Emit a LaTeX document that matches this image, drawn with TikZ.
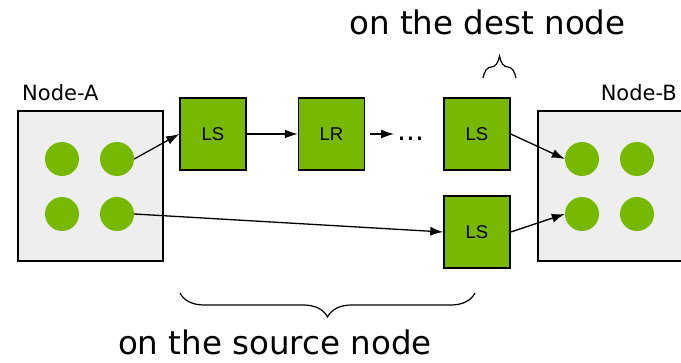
\documentclass[tikz,border=0pt]{standalone}
\usepackage{fontspec}
\setmainfont{DejaVu Sans}
\newfontfamily\boxfont{Liberation Sans}
\usepackage{tikz}
\usetikzlibrary{arrows.meta,positioning,decorations.pathreplacing}
\definecolor{nvgreen}{HTML}{76B900}
\definecolor{hostgray}{HTML}{EEEEEE}
\tikzset{
  hostbox/.style={draw=black,fill=hostgray,line width=1.5pt,minimum width=145pt,
    minimum height=150pt,inner sep=0pt},
  gpudot/.style={circle,fill=nvgreen,minimum size=34pt,inner sep=0pt},
  linkbox/.style={draw=black,fill=nvgreen,line width=1.5pt,minimum width=66pt,
    minimum height=72pt,inner sep=0pt,font=\boxfont\fontsize{18.5}{20}\selectfont},
  hostlabel/.style={font=\fontsize{21}{24}\selectfont,inner sep=0pt},
  bracelabel/.style={font=\fontsize{32.5}{36}\selectfont,inner sep=0pt,anchor=base},
  linkarrow/.style={-{Latex[length=13pt,width=9pt]},line width=1.3pt},
  bracepath/.style={decorate,decoration={brace,amplitude=#1},line width=1.2pt}
}
\begin{document}
\begin{tikzpicture}[x=1pt,y=-1pt]
  \useasboundingbox (0,0) rectangle (681,363);
  \clip (0,0) rectangle (681,363);
  % source host
  \node[hostbox] (nodeA) at (90.5,186) {};
  \node[hostlabel,anchor=base west] (labelA) at (22,101) {Node-A};
  \node[gpudot] (a1) at (62,159) {};
  \node[gpudot] (a2) at (117,159) {};
  \node[gpudot] (a3) at (62,214) {};
  \node[gpudot] (a4) at (117,214) {};
  % dest host
  \node[hostbox] (nodeB) at (610.5,186) {};
  \node[hostlabel,anchor=base east] (labelB) at (677,101) {Node-B};
  \node[gpudot] (b1) at (582,159) {};
  \node[gpudot] (b2) at (637,159) {};
  \node[gpudot] (b3) at (582,214) {};
  \node[gpudot] (b4) at (637,214) {};
  % chain of stages
  \node[linkbox] (ls1) at (213,134) {LS};
  \node[linkbox] (lr) at (331.5,134) {LR};
  \node[anchor=base west,inner sep=0pt,font=\fontsize{28}{30}\selectfont]
    (dots) at (397,141) {...};
  \node[linkbox] (ls3) at (477,134) {LS};
  \node[linkbox] (ls4) at (477,232) {LS};
  \draw[linkarrow] (a2.east) -- (ls1.west);
  \draw[linkarrow] (ls1.east) -- (lr.west);
  \draw[linkarrow,shorten <=5pt,shorten >=3pt] (lr.east) -- (lr.east -| dots.west);
  \draw[linkarrow] (a4.east) -- (ls4.west);
  \draw[linkarrow] (ls3.east) -- (b1.west);
  \draw[linkarrow] (ls4.east) -- (b3.west);
  % braces
  \coordinate (destL) at (483,78);
  \coordinate (destR) at (516,78);
  \draw[bracepath=22pt] (destL) -- (destR);
  \node[bracelabel] (destText) at (487.5,35) {on the dest node};
  \coordinate (srcL) at (180,293);
  \coordinate (srcR) at (475,293);
  \draw[bracepath=24pt] (srcR) -- (srcL);
  \node[bracelabel] (srcText) at (275,355) {on the source node};
\end{tikzpicture}
\end{document}
